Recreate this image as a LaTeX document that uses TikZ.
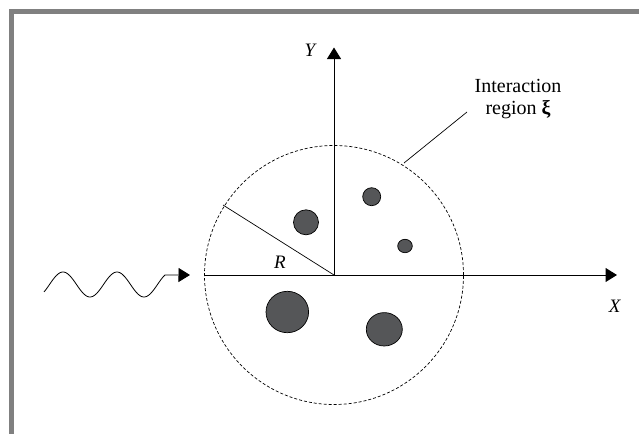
\documentclass[tikz,border=0pt]{standalone}
\usepackage{fontspec}
\setmainfont{Liberation Serif}
\usetikzlibrary{arrows.meta,shapes.geometric}
\definecolor{framegrey}{RGB}{128,128,128}
\definecolor{grain}{RGB}{85,86,88}

\begin{document}
\begin{tikzpicture}[x=1pt,y=-1pt,
    axis/.style={line width=1pt,-{Triangle[length=11.5pt,width=14pt]}},
    grainblob/.style={ellipse,fill=grain,draw=black,line width=0.7pt,inner sep=0pt},
    lbl/.style={font=\fontsize{19}{22}\selectfont\itshape,inner sep=0pt}]
  \useasboundingbox (0,0) rectangle (639,434);
  % grey frame
  \fill[framegrey] (9,9) rectangle (639,14);
  \fill[framegrey] (9,9) rectangle (14,434);

  \coordinate (O) at (334,275);
  \coordinate (Xstart) at (204,275);
  \coordinate (Xend) at (617,275);
  \coordinate (Yend) at (334,47.5);
  \coordinate (Rtip) at (223,205);
  \coordinate (rim) at (404,163);
  \coordinate (lead) at (467,112);
  \coordinate (wtip) at (190,275);

  % interaction region
  \draw[dash pattern=on 3pt off 2pt,line width=0.7pt] (O) circle[radius=129.5pt];
  \draw[axis] (Xstart) -- (Xend);
  \draw[axis] (O) -- (Yend);
  \draw[line width=0.7pt] (O) -- (Rtip);
  \draw[line width=0.7pt] (rim) -- (lead);

  % incoming wave
  \draw[axis,line width=0.8pt] plot[domain=44:165,samples=90,smooth]
    (\x,{284.5-12.5*cos(6.6667*(\x-63))}) -- (wtip);

  % grains
  \node[grainblob,minimum width=25pt,minimum height=25pt] (g1) at (306,222.3) {};
  \node[grainblob,minimum width=18pt,minimum height=18pt] (g2) at (371.7,196.7) {};
  \node[grainblob,minimum width=14.6pt,minimum height=13.4pt] (g3) at (405,246) {};
  \node[grainblob,minimum width=42.6pt,minimum height=41.4pt] (g4) at (287.3,312) {};
  \node[grainblob,minimum width=36pt,minimum height=33.4pt] (g5) at (384.3,329.3) {};

  % labels
  \node[lbl] (ylab) at (310,50.5) {Y};
  \node[lbl] (xlab) at (614.7,306.5) {X};
  \node[lbl] (rlab) at (280,262.5) {R};
  \node[font=\fontsize{20}{21.5}\selectfont,align=center,inner sep=0pt] (txt) at (518,99)
    {Interaction\\region \textbf{ξ}};
\end{tikzpicture}
\end{document}
